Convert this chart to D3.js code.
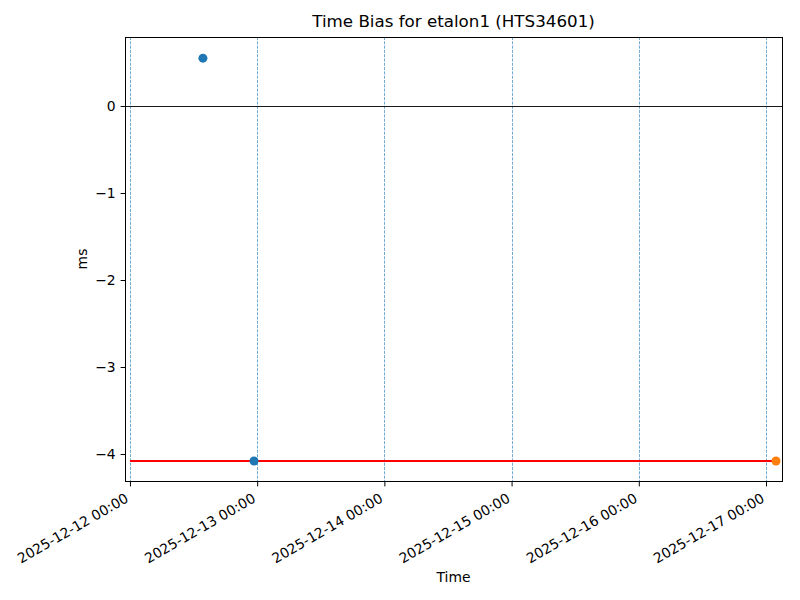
<!DOCTYPE html>
<html>
<head>
<meta charset="utf-8">
<script src="https://d3js.org/d3.v7.min.js"></script>
<style>
  body { margin: 0; background: #fff; }
  svg text { font-family: 'DejaVu Sans', sans-serif; fill: #000; }
</style>
</head>
<body>
<svg width="800" height="600"></svg>
<script>
// data
var blueTimes = ["2025-12-12T13:46", "2025-12-12T23:24"];
var blueValues = [0.55, -4.08];
var orangeTimes = ["2025-12-17T01:53"];
var orangeValues = [-4.08];
var refLineTimes = ["2025-12-12T00:00", "2025-12-17T01:53"];
var refLineValues = [-4.08, -4.08];
var dayMarks = ["2025-12-12", "2025-12-13", "2025-12-14", "2025-12-15", "2025-12-16", "2025-12-17"];
var yTicks = [0, -1, -2, -3, -4];

var parseT = d3.timeParse("%Y-%m-%dT%H:%M");
var parseD = d3.timeParse("%Y-%m-%d");
var fmt = d3.timeFormat("%Y-%m-%d %H:%M");

var svg = d3.select("svg");
var margin = {left: 125, right: 18, top: 37, bottom: 119};
var W = 800, H = 600;

var x = d3.scaleTime()
    .domain([parseT("2025-12-11T23:04"), parseT("2025-12-17T03:01")])
    .range([margin.left, W - margin.right]);
var y = d3.scaleLinear()
    .domain([-4.31, 0.793])
    .range([H - margin.bottom, margin.top]);

var g = svg.append("g");

// day marker lines (snapped to pixel centres)
var xs = d => Math.round(x(parseD(d))) + 0.5;
g.selectAll(".day").data(dayMarks).enter().append("line")
    .attr("x1", xs).attr("x2", xs)
    .attr("y1", margin.top).attr("y2", H - margin.bottom)
    .attr("stroke", "#1f77b4").attr("stroke-opacity", 0.8)
    .attr("stroke-width", 0.8).attr("stroke-dasharray", "3,1.3");

// zero line
g.append("line")
    .attr("x1", margin.left).attr("x2", W - margin.right)
    .attr("y1", Math.round(y(0)) + 0.5).attr("y2", Math.round(y(0)) + 0.5)
    .attr("stroke", "#000").attr("stroke-width", 0.9);

// red reference line
var line = d3.line().x(d => x(parseT(d[0]))).y(d => y(d[1]));
g.append("path")
    .datum(d3.zip(refLineTimes, refLineValues))
    .attr("d", line)
    .attr("fill", "none").attr("stroke", "#ff0000").attr("stroke-width", 1.8);

// points
g.selectAll(".blue").data(d3.zip(blueTimes, blueValues)).enter().append("circle")
    .attr("cx", d => x(parseT(d[0]))).attr("cy", d => y(d[1]))
    .attr("r", 4.5).attr("fill", "#1f77b4");
g.selectAll(".orange").data(d3.zip(orangeTimes, orangeValues)).enter().append("circle")
    .attr("cx", d => x(parseT(d[0]))).attr("cy", d => y(d[1]))
    .attr("r", 4.5).attr("fill", "#ff7f0e");

// frame
g.append("rect")
    .attr("x", margin.left + 0.5).attr("y", margin.top + 0.5)
    .attr("width", W - margin.left - margin.right)
    .attr("height", H - margin.top - margin.bottom)
    .attr("fill", "none").attr("stroke", "#000").attr("stroke-width", 1);

// x axis
var xAxis = d3.axisBottom(x)
    .tickValues(dayMarks.map(parseD))
    .tickFormat(fmt).tickSizeInner(4.9).tickSizeOuter(0).tickPadding(4.9);
var xg = svg.append("g")
    .attr("transform", "translate(0," + (H - margin.bottom + 0.5) + ")")
    .call(xAxis);
xg.select(".domain").remove();
xg.selectAll("line").attr("stroke", "#000").attr("stroke-width", 1);
xg.selectAll("text")
    .attr("font-size", "13.9px")
    .attr("text-anchor", "end")
    .attr("y", 0).attr("dy", "0.72em")
    .attr("transform", "translate(-6,11) rotate(-30)");

// y axis
var yAxis = d3.axisLeft(y)
    .tickValues(yTicks)
    .tickFormat(d => (d < 0 ? "\u2212" + Math.abs(d) : d))
    .tickSizeInner(4.9).tickSizeOuter(0).tickPadding(4.9);
var yg = svg.append("g")
    .attr("transform", "translate(" + (margin.left + 0.5) + ",0)")
    .call(yAxis);
yg.select(".domain").remove();
yg.selectAll("line").attr("stroke", "#000").attr("stroke-width", 1);
yg.selectAll("text").attr("font-size", "13.9px");

// labels
svg.append("text")
    .attr("x", (margin.left + W - margin.right) / 2).attr("y", 27)
    .attr("text-anchor", "middle").attr("font-size", "16.7px")
    .text("Time Bias for etalon1 (HTS34601)");
svg.append("text")
    .attr("x", (margin.left + W - margin.right) / 2).attr("y", 582)
    .attr("text-anchor", "middle").attr("font-size", "13.9px")
    .text("Time");
svg.append("text")
    .attr("transform", "translate(87," + ((margin.top + H - margin.bottom) / 2) + ") rotate(-90)")
    .attr("text-anchor", "middle").attr("font-size", "13.9px")
    .text("ms");
</script>
</body>
</html>
